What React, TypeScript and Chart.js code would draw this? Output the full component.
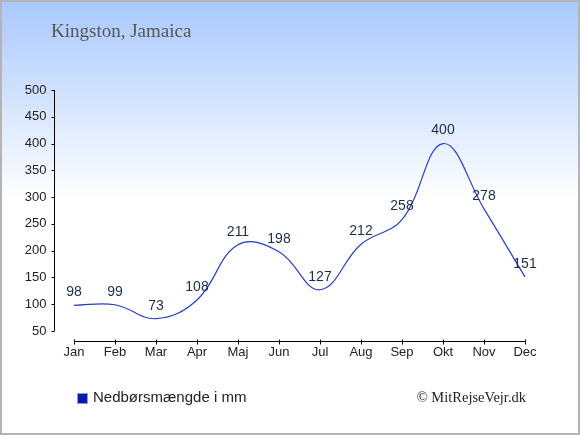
import { useEffect, useRef } from "react"
import { Chart, registerables } from "chart.js"

Chart.register(...registerables)

// Monthly precipitation for Kingston
const months = ["Jan", "Feb", "Mar", "Apr", "Maj", "Jun", "Jul", "Aug", "Sep", "Okt", "Nov", "Dec"]
const rainfall = [98, 99, 73, 108, 211, 198, 127, 212, 258, 400, 278, 151]
const yTicks = [50, 100, 150, 200, 250, 300, 350, 400, 450, 500]

const title = "Kingston, Jamaica"
const legendLabel = "Nedbørsmængde i mm"
const credit = "© MitRejseVejr.dk"

// background, axes, labels and legend drawn around the chart
const decorPlugin = {
  id: "decor",
  beforeDraw(chart: Chart) {
    const { ctx, width, height } = chart
    ctx.save()
    const grad = ctx.createLinearGradient(0, 0, 0, 200)
    grad.addColorStop(0, "#a8c8fe")
    grad.addColorStop(1, "#ffffff")
    ctx.fillStyle = "#ffffff"
    ctx.fillRect(0, 0, width, height)
    ctx.fillStyle = grad
    ctx.fillRect(0, 0, width, 200)
    ctx.restore()
  },
  afterDraw(chart: Chart) {
    const { ctx, width, height } = chart
    const x = chart.scales.x
    const y = chart.scales.y
    ctx.save()

    // y axis
    ctx.strokeStyle = "#000"
    ctx.lineWidth = 1
    const ax = Math.round(chart.chartArea.left) + 0.5
    ctx.beginPath()
    ctx.moveTo(ax, y.getPixelForValue(500))
    ctx.lineTo(ax, y.getPixelForValue(50))
    yTicks.forEach((v) => {
      const py = Math.round(y.getPixelForValue(v)) + 0.5
      ctx.moveTo(ax - 3, py)
      ctx.lineTo(ax, py)
    })
    ctx.stroke()

    // x axis, below the plot
    const ay = Math.round(chart.chartArea.bottom) + 10.5
    ctx.beginPath()
    ctx.moveTo(x.getPixelForValue(0), ay)
    ctx.lineTo(x.getPixelForValue(months.length - 1), ay)
    months.forEach((_, i) => {
      const px = Math.round(x.getPixelForValue(i)) + 0.5
      ctx.moveTo(px, ay - 2)
      ctx.lineTo(px, ay + 3)
    })
    ctx.stroke()

    // value labels
    ctx.fillStyle = "#1c2c4c"
    ctx.font = "14px 'Liberation Sans', Arial, sans-serif"
    ctx.textAlign = "center"
    ctx.textBaseline = "middle"
    const meta = chart.getDatasetMeta(0)
    meta.data.forEach((pt, i) => {
      ctx.fillText(String(rainfall[i]), pt.x, pt.y - 13)
    })

    // title
    ctx.fillStyle = "#555555"
    ctx.font = "19px 'Liberation Serif', 'Times New Roman', serif"
    ctx.textAlign = "left"
    ctx.fillText(title, 51, 32)

    // legend
    ctx.fillStyle = "#0a1aa8"
    ctx.fillRect(77, 393, 10, 10)
    ctx.strokeStyle = "#8f99d8"
    ctx.strokeRect(77.5, 393.5, 10, 10)
    ctx.fillStyle = "#222222"
    ctx.font = "15px 'Liberation Sans', Arial, sans-serif"
    ctx.fillText(legendLabel, 93, 398)

    // credit
    ctx.fillStyle = "#222222"
    ctx.font = "14.5px 'Liberation Serif', 'Times New Roman', serif"
    ctx.textAlign = "right"
    ctx.fillText(credit, 526, 398)

    // frame
    ctx.strokeStyle = "#b4b4b4"
    ctx.lineWidth = 2
    ctx.strokeRect(1, 1, width - 2, height - 2)
    ctx.restore()
  },
}

export default function App() {
  const chartRef = useRef<HTMLCanvasElement>(null)
  const chartInstance = useRef<Chart | null>(null)

  useEffect(() => {
    document.body.style.margin = "0"
    if (!chartRef.current) return
    if (chartInstance.current) chartInstance.current.destroy()

    const ctx = chartRef.current.getContext("2d")
    if (!ctx) return

    chartInstance.current = new Chart(ctx, {
      type: "line",
      data: {
        labels: months,
        datasets: [
          {
            label: legendLabel,
            data: rainfall,
            borderColor: "#2a3cc4",
            borderWidth: 1.2,
            tension: 0.4,
            pointRadius: 0,
            fill: false,
          },
        ],
      },
      options: {
        responsive: false,
        animation: false,
        layout: { padding: { top: 90, right: 34.5, bottom: 64, left: 0 } },
        plugins: {
          legend: { display: false },
          tooltip: { enabled: false },
        },
        scales: {
          x: {
            offset: true,
            grid: { display: false, drawTicks: false },
            border: { display: false },
            ticks: {
              padding: 14,
              color: "#222",
              font: { family: "'Liberation Sans', Arial, sans-serif", size: 13 },
            },
            afterFit: (scale: any) => {
              scale.height = 40
            },
          },
          y: {
            min: 50,
            max: 500,
            grid: { display: false, drawTicks: false },
            border: { display: false },
            ticks: {
              stepSize: 50,
              padding: 7,
              color: "#222",
              font: { family: "'Liberation Sans', Arial, sans-serif", size: 13 },
            },
            afterFit: (scale: any) => {
              scale.width = 53.5
            },
          },
        },
      },
      plugins: [decorPlugin],
    })

    return () => {
      if (chartInstance.current) {
        chartInstance.current.destroy()
        chartInstance.current = null
      }
    }
  }, [])

  return (
    <div style={{ width: 580, height: 435 }}>
      <canvas ref={chartRef} width={580} height={435} />
    </div>
  )
}
